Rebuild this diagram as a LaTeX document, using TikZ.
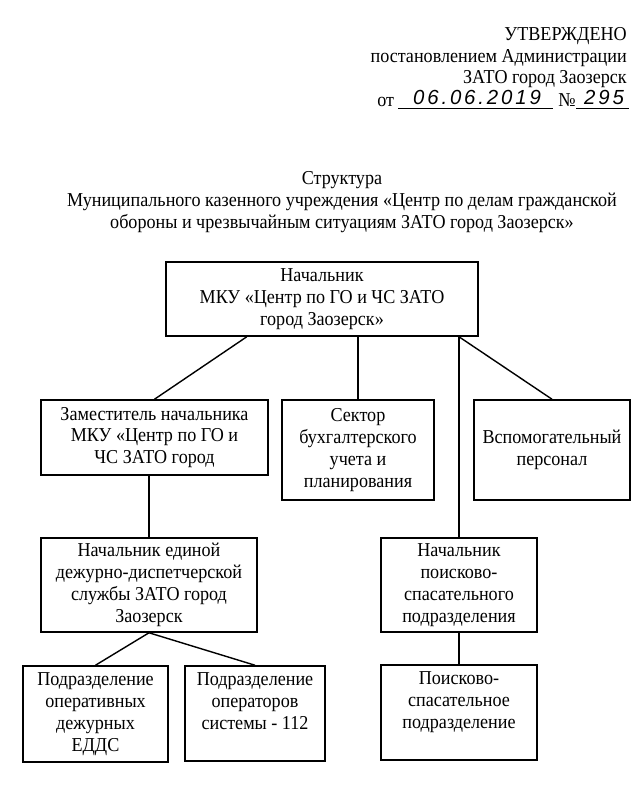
\documentclass[tikz,border=0pt]{standalone}
\usepackage{fontspec}
\setmainfont{Liberation Serif}[FakeStretch=0.92]
\newfontfamily\handfont{Liberation Sans}[LetterSpace=14]
\usetikzlibrary{calc}

\begin{document}
\begin{tikzpicture}[x=0.25mm,y=-0.25mm,
    bx/.style={draw,line width=1.1pt,align=center,inner sep=2pt,
               font=\fontsize{14}{15.6}\selectfont},
    topbx/.style={bx,inner ysep=0pt,text height=15.75mm,text depth=8mm},
    tx/.style={inner sep=0pt,font=\fontsize{14}{15.6}\selectfont},
    hw/.style={inner sep=0pt,font=\handfont\itshape\fontsize{14.5}{16}\selectfont},
    ln/.style={line width=1pt}
  ]
  \useasboundingbox (0,0) rectangle (642,800);

  % header
  \node(h1)[tx,anchor=base east] at (627,40) {УТВЕРЖДЕНО};
  \node(h2)[tx,anchor=base east] at (627,62) {постановлением Администрации};
  \node(h3)[tx,anchor=base east] at (627,83) {ЗАТО город Заозерск};
  \node(h4)[tx,anchor=base west] at (377,106) {от};
  \node(dt)[hw,anchor=base] at (477,104.5) {06.06.2019};
  \node(no)[tx,anchor=base west] at (558,106) {№};
  \node(nm)[hw,anchor=base] at (604,104.5) {295};
  \draw[line width=0.7pt] (398,108) -- (553,108);
  \draw[line width=0.7pt] (576,108) -- (629,108);

  % title
  \node(t1)[tx,anchor=base] at (342,184) {Структура};
  \node(t2)[tx,anchor=base] at (342,206) {Муниципального казенного учреждения «Центр по делам гражданской};
  \node(t3)[tx,anchor=base] at (342,228) {обороны и чрезвычайным ситуациям ЗАТО город Заозерск»};

  % boxes
  \node(chief)[bx,minimum width=78mm,minimum height=18.5mm] at (322,299)
    {Начальник\\МКУ «Центр по ГО и ЧС ЗАТО\\город Заозерск»};
  \node(dep)[bx,minimum width=56.75mm,minimum height=18.75mm] at (154.5,437.5)
    {Заместитель начальника\\МКУ «Центр по ГО и\\ЧС ЗАТО город};
  \node(buh)[bx,minimum width=38mm,minimum height=25mm] at (358,450)
    {Сектор\\бухгалтерского\\учета и\\планирования};
  \node(aux)[bx,minimum width=39mm,minimum height=25mm] at (552,450)
    {Вспомогательный\\персонал};
  \node(edds)[bx,minimum width=54mm,minimum height=23.5mm] at (149,585)
    {Начальник единой\\дежурно-диспетчерской\\службы ЗАТО город\\Заозерск};
  \node(pspc)[bx,minimum width=39mm,minimum height=23.5mm] at (459,585)
    {Начальник\\поисково-\\спасательного\\подразделения};
  \node(opd)[bx,minimum width=36.25mm,minimum height=24mm] at (95.5,714)
    {Подразделение\\оперативных\\дежурных\\ЕДДС};
  \node(op112)[topbx,minimum width=35mm] at (255,713.5)
    {Подразделение\\операторов\\системы - 112};
  \node(psp)[topbx,minimum width=39mm] at (459,712.5)
    {Поисково-\\спасательное\\подразделение};

  % links
  \draw[ln] ($(chief.south west)!0.26!(chief.south east)$) -- (dep.north);
  \draw[ln] (chief.south -| buh.north) -- (buh.north);
  \draw[ln] (chief.south -| pspc.north) -- (pspc.north);
  \draw[ln] (chief.south -| pspc.north) -- (aux.north);
  \draw[ln] (dep.south -| edds.north) -- (edds.north);
  \draw[ln] (edds.south) -- (opd.north);
  \draw[ln] (edds.south) -- (op112.north);
  \draw[ln] (pspc.south) -- (psp.north);
\end{tikzpicture}
\end{document}
